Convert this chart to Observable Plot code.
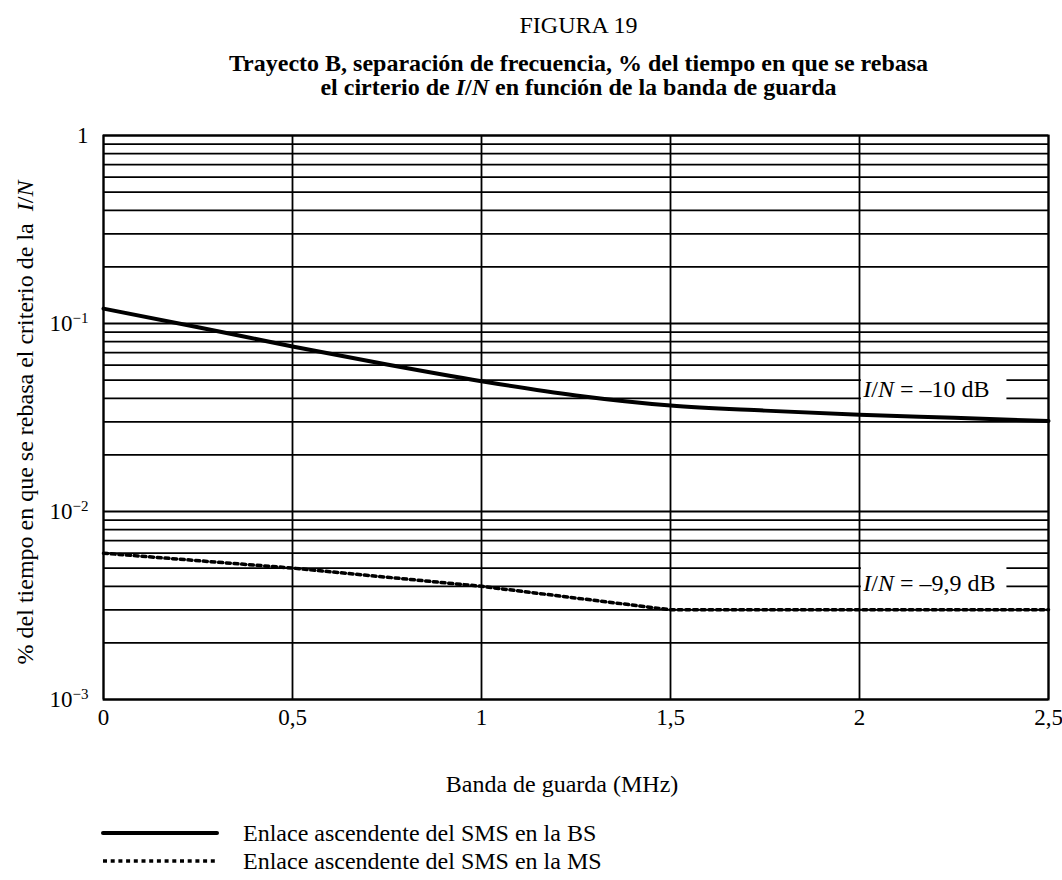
<!DOCTYPE html>
<html>
<head>
<meta charset="utf-8">
<script src="https://cdn.jsdelivr.net/npm/d3@7"></script>
<script src="https://cdn.jsdelivr.net/npm/@observablehq/plot@0.6"></script>
<style>
  body { margin: 0; background: #fff; color: #000; font-family: "Liberation Serif", "Times New Roman", serif; }
  #wrap { position: relative; width: 1062px; height: 880px; overflow: hidden; }
  .h { position: absolute; left: 103px; width: 951px; text-align: center; white-space: nowrap; }
  #fig { top: 13px; font-size: 24px; line-height: 24px; }
  #title { top: 51px; font-size: 24px; line-height: 24px; font-weight: bold; }
  #chart { position: absolute; left: 0; top: 100px; }
  .leg { position: absolute; left: 100px; height: 26px; font-size: 24px; line-height: 26px; white-space: nowrap; }
  .leg svg { position: absolute; left: 0; top: 3px; }
  .leg span { position: absolute; left: 143px; top: 0; }
</style>
</head>
<body>
<div id="wrap">
  <div class="h" id="fig">FIGURA 19</div>
  <div class="h" id="title">Trayecto B, separación de frecuencia, % del tiempo en que se rebasa<br>el cirterio de <i>I</i>/<i>N</i> en función de la banda de guarda</div>
  <div id="chart"></div>
  <div class="leg" style="top:820px;">
    <svg width="125" height="20"><line x1="3" y1="10" x2="117" y2="10" stroke="#000" stroke-width="4" stroke-linecap="round"/></svg>
    <span>Enlace ascendente del SMS en la BS</span>
  </div>
  <div class="leg" style="top:848px;">
    <svg width="125" height="20"><line x1="3" y1="10" x2="118" y2="10" stroke="#000" stroke-width="3.5" stroke-dasharray="4 3.7"/></svg>
    <span>Enlace ascendente del SMS en la MS</span>
  </div>
</div>
<script>
// ---- data ----
const bsX = [0, 0.25, 0.5, 0.75, 1, 1.25, 1.5, 1.75, 2, 2.25, 2.5];
const bsValues = [0.120, 0.0956, 0.0755, 0.0605, 0.0493, 0.0414, 0.0366, 0.0344, 0.0327, 0.0315, 0.0303];
const msX = [0, 0.5, 1, 1.5, 2, 2.5];
const msValues = [0.006, 0.005, 0.004, 0.003, 0.003, 0.003];

const xTicks = [0, 0.5, 1, 1.5, 2, 2.5];
const xTickLabels = ["0", "0,5", "1", "1,5", "2", "2,5"];
const yTicks = [0.001, 0.01, 0.1, 1];
const yTickLabels = ["10^\u22123", "10^\u22122", "10^\u22121", "1"];
const yGrid = [0.001, 0.002, 0.003, 0.004, 0.005, 0.006, 0.007, 0.008, 0.009,
               0.01, 0.02, 0.03, 0.04, 0.05, 0.06, 0.07, 0.08, 0.09,
               0.1, 0.2, 0.3, 0.4, 0.5, 0.6, 0.7, 0.8, 0.9, 1];

const labelTexts = ["I/N = \u201310 dB", "I/N = \u20139,9 dB"];
const labelX = [2.01, 2.01];
const labelY = [0.0445, 0.00414];
const boxX1 = [2.005, 2.005];
const boxX2 = [2.39, 2.39];
const boxY1 = [0.0375, 0.0034];
const boxY2 = [0.057, 0.0058];

const xLabel = "Banda de guarda (MHz)";
const yLabel = "% del tiempo en que se rebasa el criterio de la\u00a0 I/N";

// ---- tables ----
const bs = bsX.map((x, i) => ({x, y: bsValues[i]}));
const ms = msX.map((x, i) => ({x, y: msValues[i]}));
const labels = labelTexts.map((t, i) => ({t, x: labelX[i], y: labelY[i]}));
const boxes = boxX1.map((x1, i) => ({x1, x2: boxX2[i], y1: boxY1[i], y2: boxY2[i]}));

const chart = Plot.plot({
  width: 1062,
  height: 720,
  marginTop: 35,
  marginBottom: 121,
  marginLeft: 103,
  marginRight: 14,
  style: {fontFamily: '"Liberation Serif", "Times New Roman", serif', fontSize: "23px", color: "#000", background: "#fff", overflow: "visible"},
  x: {domain: [0, 2.5]},
  y: {type: "log", domain: [0.001, 1]},
  marks: [
    Plot.ruleY(yGrid, {stroke: "#000", strokeWidth: 1.8}),
    Plot.ruleX(xTicks, {stroke: "#000", strokeWidth: 1.8}),
    Plot.rect(boxes, {x1: "x1", x2: "x2", y1: "y1", y2: "y2", fill: "#fff"}),
    Plot.line(bs, {x: "x", y: "y", stroke: "#000", strokeWidth: 4, curve: "monotone-x"}),
    Plot.line(ms, {x: "x", y: "y", stroke: "#000", strokeWidth: 3.5, strokeDasharray: "4 3.7"}),
    Plot.text(labels, {x: "x", y: "y", text: "t", textAnchor: "start", fontSize: 24, fill: "#000"}),
    Plot.frame({stroke: "#000", strokeWidth: 2}),
    Plot.axisX(xTicks, {tickSize: 0, tickPadding: 9, tickFormat: d => xTickLabels[xTicks.indexOf(d)], label: null, fontSize: 23}),
    Plot.axisY(yTicks, {tickSize: 0, tickPadding: 15, tickFormat: d => yTickLabels[yTicks.indexOf(d)], label: null, fontSize: 23}),
    Plot.text([xLabel], {frameAnchor: "bottom", text: d => d, dy: 92, dx: -14, fontSize: 24, fill: "#000"}),
    Plot.text([yLabel], {frameAnchor: "left", text: d => d, rotate: -90, textAnchor: "middle", dx: -78, dy: 5, fontSize: 24, fill: "#000"})
  ]
});
document.getElementById("chart").appendChild(chart);

// superscripts on y tick labels
d3.select(chart).selectAll('g[aria-label="y-axis tick label"] text').each(function() {
  const t = this.textContent;
  if (t.includes("^")) {
    const [b, e] = t.split("^");
    const s = d3.select(this);
    s.text(b);
    s.append("tspan").attr("dy", "-0.5em").attr("font-size", "15px").text(e);
  }
});
// italic I/N
d3.select(chart).selectAll("text").each(function() {
  const t = this.textContent;
  if (t.includes("I/N") && this.childElementCount === 0) {
    const [a, b] = t.split("I/N");
    const s = d3.select(this);
    s.text(null);
    if (a) s.append("tspan").text(a);
    s.append("tspan").attr("font-style", "italic").text("I");
    s.append("tspan").text("/");
    s.append("tspan").attr("font-style", "italic").text("N");
    if (b) s.append("tspan").text(b);
  }
});
</script>
</body>
</html>
